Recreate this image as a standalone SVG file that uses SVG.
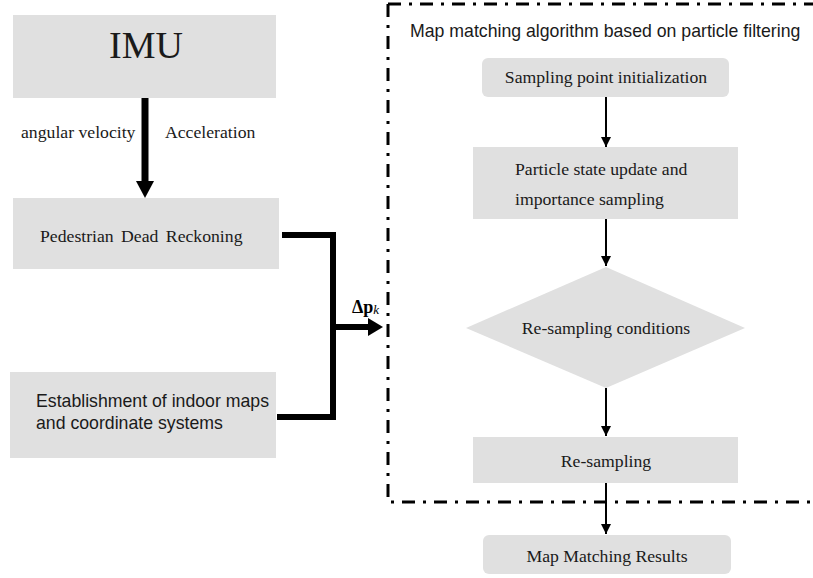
<svg xmlns="http://www.w3.org/2000/svg" width="813" height="578" viewBox="0 0 813 578">
<style>
.box{fill:#e0e0e0;stroke:none}
.serif{font-family:"Liberation Serif","Times New Roman",serif;fill:#1a1a1a;font-size:17.7px}
.sans{font-family:"Liberation Sans",Arial,sans-serif;fill:#1a1a1a;font-size:17.7px}
.thin{stroke:#000;stroke-width:2;fill:none}
.thick{stroke:#000;stroke-width:6;fill:none}
.dd{stroke:#000;stroke-width:3;fill:none;stroke-dasharray:13 8 3 8}
</style>
<defs>
<marker id="ah" viewBox="0 0 10 10" refX="10" refY="5" markerWidth="5" markerHeight="5" markerUnits="strokeWidth" orient="auto">
<path d="M0,0 L10,5 L0,10 z" fill="#000"/>
</marker>
</defs>
<rect width="813" height="578" fill="#fff"/>

<g id="frame">
<path class="dd" d="M388,4 L813,4 M388,4 L388,502 L813,502"/>
<text class="sans" x="410" y="37">Map matching algorithm based on particle filtering</text>
</g>

<g id="imu">
<rect class="box" x="13" y="15" width="263" height="83"/>
<text class="serif" x="146" y="58" style="font-size:38px" text-anchor="middle">IMU</text>
</g>

<g id="pdr">
<rect class="box" x="13" y="198" width="266" height="71"/>
<text class="serif" x="40" y="242" word-spacing="3">Pedestrian Dead Reckoning</text>
</g>

<g id="maps">
<rect class="box" x="10" y="372" width="266" height="86"/>
<text class="sans" x="36" y="407">Establishment of indoor maps</text>
<text class="sans" x="36" y="429">and coordinate systems</text>
</g>

<g id="init">
<rect class="box" x="482" y="58" width="247" height="39" rx="6"/>
<text class="serif" x="606" y="83" text-anchor="middle">Sampling point initialization</text>
</g>

<g id="update">
<rect class="box" x="473" y="147" width="265" height="72"/>
<text class="serif" x="515" y="175">Particle state update and</text>
<text class="serif" x="515" y="205">importance sampling</text>
</g>

<g id="cond">
<polygon class="box" points="606,267 745,328 606,388 466,328"/>
<text class="serif" x="606" y="334" text-anchor="middle">Re-sampling conditions</text>
</g>

<g id="resample">
<rect class="box" x="473" y="437" width="265" height="46"/>
<text class="serif" x="606" y="467" text-anchor="middle">Re-sampling</text>
</g>

<g id="results">
<rect class="box" x="483" y="535" width="248" height="39" rx="6"/>
<text class="serif" x="607" y="562" text-anchor="middle">Map Matching Results</text>
</g>

<g id="connectors">
<line x1="145" y1="98" x2="145" y2="182" stroke="#000" stroke-width="7"/>
<polygon points="136,181 154,181 145,198" fill="#000"/>
<text class="serif" x="21" y="138">angular velocity</text>
<text class="serif" x="165" y="138">Acceleration</text>

<path class="thick" d="M282,235 L333,235 L333,417 L277,417 M333,327 L370,327"/>
<polygon points="368,318 383,327 368,336" fill="#000"/>
<text x="352" y="313" font-family="'Liberation Serif',serif" font-size="18" font-weight="bold" fill="#000">Δp<tspan font-size="13" font-style="italic" font-weight="normal" dy="1">k</tspan></text>

<line class="thin" x1="606" y1="97" x2="606" y2="147" marker-end="url(#ah)"/>
<line class="thin" x1="606" y1="219" x2="606" y2="266" marker-end="url(#ah)"/>
<line class="thin" x1="606" y1="388" x2="606" y2="436" marker-end="url(#ah)"/>
<line class="thin" x1="606" y1="483" x2="606" y2="534" marker-end="url(#ah)"/>
</g>
</svg>
